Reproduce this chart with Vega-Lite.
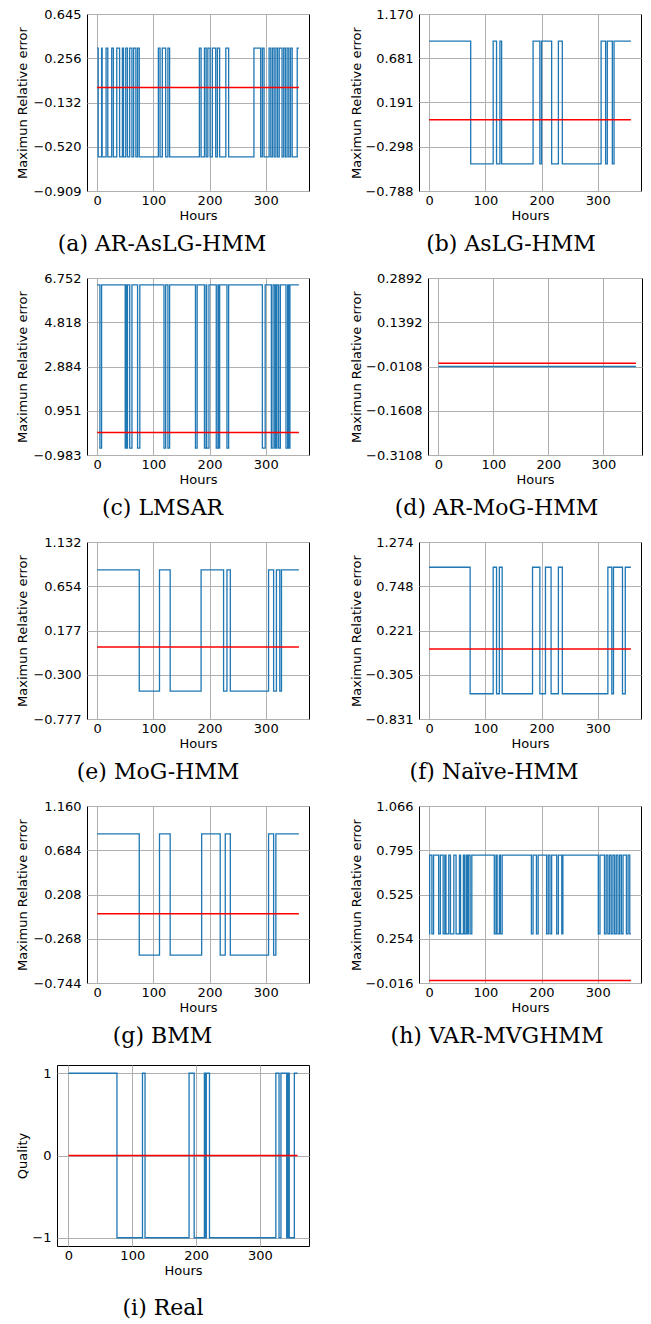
{
"$schema": "https://vega.github.io/schema/vega-lite/v6.json",
"padding": {"left": 16, "top": 7, "right": 0, "bottom": 0},
"config": {
 "view": {"stroke": "#000", "strokeWidth": 1},
 "axis": {"grid": true, "gridColor": "#b0b0b0", "gridWidth": 1, "ticks": false, "tickSize": 0, "domain": false, "labelFont": "DejaVu Sans", "labelFontSize": 13, "labelColor": "#000", "labelFlush": false, "titleFont": "DejaVu Sans", "titleFontSize": 13, "titleFontWeight": "normal", "titleColor": "#000"},
 "axisY": {"labelPadding": 6, "titleBaseline": "middle", "titleAlign": "center", "titleAngle": -90},
 "axisX": {"labelPadding": 3, "titlePadding": 2},
 "line": {"color": "#1f77b4", "strokeWidth": 1.3, "interpolate": "step-after"},
 "rule": {"color": "#ff0000", "strokeWidth": 1.5},
 "title": {"orient": "bottom", "anchor": "middle", "frame": "group", "font": "DejaVu Serif", "fontSize": 22, "fontWeight": "normal", "color": "#000", "baseline": "alphabetic"}
},
"datasets": {"s": [
{"p":"a","h":0,"v":0.345},{"p":"a","h":2,"v":-0.609},{"p":"a","h":8,"v":0.345},{"p":"a","h":9,"v":-0.609},{"p":"a","h":16,"v":0.345},{"p":"a","h":19,"v":-0.609},{"p":"a","h":26,"v":0.345},{"p":"a","h":29,"v":-0.609},{"p":"a","h":35,"v":0.345},{"p":"a","h":40,"v":-0.609},{"p":"a","h":45,"v":0.345},{"p":"a","h":47,"v":-0.609},{"p":"a","h":51,"v":0.345},{"p":"a","h":54,"v":-0.609},{"p":"a","h":58,"v":0.345},{"p":"a","h":62,"v":-0.609},{"p":"a","h":65,"v":0.345},{"p":"a","h":69,"v":-0.609},{"p":"a","h":72,"v":0.345},{"p":"a","h":75,"v":-0.609},{"p":"a","h":109,"v":0.345},{"p":"a","h":112,"v":-0.609},{"p":"a","h":116,"v":0.345},{"p":"a","h":122,"v":-0.609},{"p":"a","h":126,"v":0.345},{"p":"a","h":129,"v":-0.609},{"p":"a","h":182,"v":0.345},{"p":"a","h":185,"v":-0.609},{"p":"a","h":191,"v":0.345},{"p":"a","h":194,"v":-0.609},{"p":"a","h":197,"v":0.345},{"p":"a","h":201,"v":-0.609},{"p":"a","h":205,"v":0.345},{"p":"a","h":211,"v":-0.609},{"p":"a","h":214,"v":0.345},{"p":"a","h":218,"v":-0.609},{"p":"a","h":229,"v":0.345},{"p":"a","h":234,"v":-0.609},{"p":"a","h":279,"v":0.345},{"p":"a","h":291,"v":-0.609},{"p":"a","h":294,"v":0.345},{"p":"a","h":297,"v":-0.609},{"p":"a","h":306,"v":0.345},{"p":"a","h":309,"v":-0.609},{"p":"a","h":312,"v":0.345},{"p":"a","h":315,"v":-0.609},{"p":"a","h":318,"v":0.345},{"p":"a","h":321,"v":-0.609},{"p":"a","h":324,"v":0.345},{"p":"a","h":329,"v":-0.609},{"p":"a","h":332,"v":0.345},{"p":"a","h":335,"v":-0.609},{"p":"a","h":338,"v":0.345},{"p":"a","h":341,"v":-0.609},{"p":"a","h":344,"v":0.345},{"p":"a","h":347,"v":-0.609},{"p":"a","h":356,"v":0.345},{"p":"a","h":359,"v":0.345},
{"p":"b","h":0,"v":0.87},{"p":"b","h":74,"v":-0.488},{"p":"b","h":114,"v":0.87},{"p":"b","h":120,"v":-0.488},{"p":"b","h":126,"v":0.87},{"p":"b","h":129,"v":-0.488},{"p":"b","h":185,"v":0.87},{"p":"b","h":197,"v":-0.488},{"p":"b","h":200,"v":0.87},{"p":"b","h":218,"v":-0.488},{"p":"b","h":230,"v":0.87},{"p":"b","h":237,"v":-0.488},{"p":"b","h":306,"v":0.87},{"p":"b","h":314,"v":-0.488},{"p":"b","h":317,"v":0.87},{"p":"b","h":326,"v":-0.488},{"p":"b","h":329,"v":0.87},{"p":"b","h":359,"v":0.87},
{"p":"c","h":0,"v":6.452},{"p":"c","h":5,"v":-0.683},{"p":"c","h":8,"v":6.452},{"p":"c","h":50,"v":-0.683},{"p":"c","h":52,"v":6.452},{"p":"c","h":53,"v":-0.683},{"p":"c","h":54,"v":6.452},{"p":"c","h":58,"v":-0.683},{"p":"c","h":62,"v":6.452},{"p":"c","h":72,"v":-0.683},{"p":"c","h":76,"v":6.452},{"p":"c","h":119,"v":-0.683},{"p":"c","h":122,"v":6.452},{"p":"c","h":126,"v":-0.683},{"p":"c","h":129,"v":6.452},{"p":"c","h":175,"v":-0.683},{"p":"c","h":178,"v":6.452},{"p":"c","h":191,"v":-0.683},{"p":"c","h":194,"v":6.452},{"p":"c","h":195,"v":-0.683},{"p":"c","h":199,"v":6.452},{"p":"c","h":212,"v":-0.683},{"p":"c","h":215,"v":6.452},{"p":"c","h":216,"v":-0.683},{"p":"c","h":218,"v":6.452},{"p":"c","h":231,"v":-0.683},{"p":"c","h":234,"v":6.452},{"p":"c","h":294,"v":-0.683},{"p":"c","h":299,"v":6.452},{"p":"c","h":310,"v":-0.683},{"p":"c","h":313,"v":6.452},{"p":"c","h":316,"v":-0.683},{"p":"c","h":318,"v":6.452},{"p":"c","h":319,"v":-0.683},{"p":"c","h":320,"v":6.452},{"p":"c","h":323,"v":-0.683},{"p":"c","h":326,"v":6.452},{"p":"c","h":336,"v":-0.683},{"p":"c","h":339,"v":6.452},{"p":"c","h":341,"v":-0.683},{"p":"c","h":343,"v":6.452},{"p":"c","h":359,"v":6.452},
{"p":"d","h":0,"v":-0.0108},{"p":"d","h":359,"v":-0.0108},
{"p":"e","h":0,"v":0.832},{"p":"e","h":75,"v":-0.477},{"p":"e","h":111,"v":0.832},{"p":"e","h":130,"v":-0.477},{"p":"e","h":185,"v":0.832},{"p":"e","h":225,"v":-0.477},{"p":"e","h":231,"v":0.832},{"p":"e","h":237,"v":-0.477},{"p":"e","h":305,"v":0.832},{"p":"e","h":314,"v":-0.477},{"p":"e","h":319,"v":0.832},{"p":"e","h":325,"v":-0.477},{"p":"e","h":328,"v":0.832},{"p":"e","h":359,"v":0.832},
{"p":"f","h":0,"v":0.974},{"p":"f","h":73,"v":-0.531},{"p":"f","h":114,"v":0.974},{"p":"f","h":120,"v":-0.531},{"p":"f","h":125,"v":0.974},{"p":"f","h":130,"v":-0.531},{"p":"f","h":184,"v":0.974},{"p":"f","h":197,"v":-0.531},{"p":"f","h":207,"v":0.974},{"p":"f","h":217,"v":-0.531},{"p":"f","h":230,"v":0.974},{"p":"f","h":237,"v":-0.531},{"p":"f","h":318,"v":0.974},{"p":"f","h":325,"v":-0.531},{"p":"f","h":328,"v":0.974},{"p":"f","h":344,"v":-0.531},{"p":"f","h":349,"v":0.974},{"p":"f","h":359,"v":0.974},
{"p":"g","h":0,"v":0.86},{"p":"g","h":75,"v":-0.444},{"p":"g","h":111,"v":0.86},{"p":"g","h":130,"v":-0.444},{"p":"g","h":186,"v":0.86},{"p":"g","h":219,"v":-0.444},{"p":"g","h":228,"v":0.86},{"p":"g","h":237,"v":-0.444},{"p":"g","h":305,"v":0.86},{"p":"g","h":314,"v":-0.444},{"p":"g","h":318,"v":0.86},{"p":"g","h":359,"v":0.86},
{"p":"h","h":0,"v":0.284},{"p":"h","h":1,"v":0.766},{"p":"h","h":5,"v":0.284},{"p":"h","h":8,"v":0.766},{"p":"h","h":17,"v":0.284},{"p":"h","h":20,"v":0.766},{"p":"h","h":25,"v":0.284},{"p":"h","h":28,"v":0.766},{"p":"h","h":30,"v":0.284},{"p":"h","h":35,"v":0.766},{"p":"h","h":38,"v":0.284},{"p":"h","h":44,"v":0.766},{"p":"h","h":48,"v":0.284},{"p":"h","h":54,"v":0.766},{"p":"h","h":56,"v":0.284},{"p":"h","h":61,"v":0.766},{"p":"h","h":63,"v":0.284},{"p":"h","h":66,"v":0.766},{"p":"h","h":68,"v":0.284},{"p":"h","h":70,"v":0.766},{"p":"h","h":73,"v":0.284},{"p":"h","h":76,"v":0.766},{"p":"h","h":116,"v":0.284},{"p":"h","h":119,"v":0.766},{"p":"h","h":121,"v":0.284},{"p":"h","h":125,"v":0.766},{"p":"h","h":127,"v":0.284},{"p":"h","h":130,"v":0.766},{"p":"h","h":182,"v":0.284},{"p":"h","h":185,"v":0.766},{"p":"h","h":191,"v":0.284},{"p":"h","h":194,"v":0.766},{"p":"h","h":209,"v":0.284},{"p":"h","h":212,"v":0.766},{"p":"h","h":215,"v":0.284},{"p":"h","h":218,"v":0.766},{"p":"h","h":227,"v":0.284},{"p":"h","h":230,"v":0.766},{"p":"h","h":236,"v":0.284},{"p":"h","h":238,"v":0.766},{"p":"h","h":301,"v":0.284},{"p":"h","h":304,"v":0.766},{"p":"h","h":312,"v":0.284},{"p":"h","h":315,"v":0.766},{"p":"h","h":318,"v":0.284},{"p":"h","h":321,"v":0.766},{"p":"h","h":324,"v":0.284},{"p":"h","h":327,"v":0.766},{"p":"h","h":330,"v":0.284},{"p":"h","h":333,"v":0.766},{"p":"h","h":336,"v":0.284},{"p":"h","h":339,"v":0.766},{"p":"h","h":342,"v":0.284},{"p":"h","h":345,"v":0.766},{"p":"h","h":351,"v":0.284},{"p":"h","h":354,"v":0.766},{"p":"h","h":357,"v":0.284},{"p":"h","h":359,"v":0.284},
{"p":"i","h":0,"v":1},{"p":"i","h":76,"v":-1},{"p":"i","h":116,"v":1},{"p":"i","h":120,"v":-1},{"p":"i","h":189,"v":1},{"p":"i","h":197,"v":-1},{"p":"i","h":213,"v":1},{"p":"i","h":215,"v":-1},{"p":"i","h":216,"v":1},{"p":"i","h":221,"v":-1},{"p":"i","h":325,"v":1},{"p":"i","h":330,"v":-1},{"p":"i","h":333,"v":1},{"p":"i","h":342,"v":-1},{"p":"i","h":344,"v":1},{"p":"i","h":346,"v":-1},{"p":"i","h":354,"v":1},{"p":"i","h":359,"v":1}
]},
"spacing": 16,
"vconcat": [
 {"bounds": "flush", "spacing": 0, "hconcat": [
  {"width": 30, "height": 10, "data": {"values": []}, "mark": "point", "view": {"stroke": null}},
  {"spacing": 15, "vconcat": [
   {"bounds": "flush", "spacing": 110, "hconcat": [
    {"width": 222, "height": 177, "title": {"text": "(a) AR-AsLG-HMM", "dx": -36, "offset": 12},
     "layer": [
      {"data": {"name": "s"}, "transform": [{"filter": "datum.p === 'a'"}], "mark": "line",
       "encoding": {"x": {"field": "h", "type": "quantitative", "title": "Hours", "scale": {"domain": [-17.95, 376.95], "nice": false, "zero": false}, "axis": {"values": [0, 100, 200, 300]}},
                    "y": {"field": "v", "type": "quantitative", "title": "Maximun Relative error", "scale": {"domain": [-0.909, 0.645], "nice": false, "zero": false}, "axis": {"values": [-0.909, -0.52, -0.132, 0.256, 0.645], "format": ".3f", "titleX": -64.2, "titleY": 88.5}}}},
      {"data": {"values": [{}]}, "mark": "rule", "encoding": {"x": {"datum": 0}, "x2": {"datum": 359}, "y": {"datum": 0}}}
     ]},
    {"width": 222, "height": 177, "title": {"text": "(b) AsLG-HMM", "dx": -19, "offset": 12},
     "layer": [
      {"data": {"name": "s"}, "transform": [{"filter": "datum.p === 'b'"}], "mark": "line",
       "encoding": {"x": {"field": "h", "type": "quantitative", "title": "Hours", "scale": {"domain": [-17.95, 376.95], "nice": false, "zero": false}, "axis": {"values": [0, 100, 200, 300]}},
                    "y": {"field": "v", "type": "quantitative", "title": "Maximun Relative error", "scale": {"domain": [-0.788, 1.17], "nice": false, "zero": false}, "axis": {"values": [-0.788, -0.298, 0.191, 0.681, 1.17], "format": ".3f", "titleX": -62.3, "titleY": 88.5}}}},
      {"data": {"values": [{}]}, "mark": "rule", "encoding": {"x": {"datum": 0}, "x2": {"datum": 359}, "y": {"datum": 0}}}
     ]}
   ]},
   {"bounds": "flush", "spacing": 119, "hconcat": [
    {"width": 222, "height": 177, "title": {"text": "(c) LMSAR", "dx": -35.5, "offset": 12},
     "layer": [
      {"data": {"name": "s"}, "transform": [{"filter": "datum.p === 'c'"}], "mark": "line",
       "encoding": {"x": {"field": "h", "type": "quantitative", "title": "Hours", "scale": {"domain": [-17.95, 376.95], "nice": false, "zero": false}, "axis": {"values": [0, 100, 200, 300]}},
                    "y": {"field": "v", "type": "quantitative", "title": "Maximun Relative error", "scale": {"domain": [-0.983, 6.752], "nice": false, "zero": false}, "axis": {"values": [-0.983, 0.951, 2.884, 4.818, 6.752], "format": ".3f", "titleX": -64.2, "titleY": 88.5}}}},
      {"data": {"values": [{}]}, "mark": "rule", "encoding": {"x": {"datum": 0}, "x2": {"datum": 359}, "y": {"datum": 0}}}
     ]},
    {"width": 214, "height": 177, "title": {"text": "(d) AR-MoG-HMM", "dx": -38.5, "offset": 12},
     "layer": [
      {"data": {"name": "s"}, "transform": [{"filter": "datum.p === 'd'"}], "mark": "line",
       "encoding": {"x": {"field": "h", "type": "quantitative", "title": "Hours", "scale": {"domain": [-18.7, 370.0], "nice": false, "zero": false}, "axis": {"values": [0, 100, 200, 300]}},
                    "y": {"field": "v", "type": "quantitative", "title": "Maximun Relative error", "scale": {"domain": [-0.3108, 0.2892], "nice": false, "zero": false}, "axis": {"values": [-0.3108, -0.1608, -0.0108, 0.1392, 0.2892], "format": ".4f", "titleX": -71.3, "titleY": 88.5}}}},
      {"data": {"values": [{}]}, "mark": "rule", "encoding": {"x": {"datum": 0}, "x2": {"datum": 359}, "y": {"datum": 0}}}
     ]}
   ]},
   {"bounds": "flush", "spacing": 110, "hconcat": [
    {"width": 222, "height": 177, "title": {"text": "(e) MoG-HMM", "dx": -40, "offset": 12},
     "layer": [
      {"data": {"name": "s"}, "transform": [{"filter": "datum.p === 'e'"}], "mark": "line",
       "encoding": {"x": {"field": "h", "type": "quantitative", "title": "Hours", "scale": {"domain": [-17.95, 376.95], "nice": false, "zero": false}, "axis": {"values": [0, 100, 200, 300]}},
                    "y": {"field": "v", "type": "quantitative", "title": "Maximun Relative error", "scale": {"domain": [-0.777, 1.132], "nice": false, "zero": false}, "axis": {"values": [-0.777, -0.3, 0.177, 0.654, 1.132], "format": ".3f", "titleX": -64.2, "titleY": 88.5}}}},
      {"data": {"values": [{}]}, "mark": "rule", "encoding": {"x": {"datum": 0}, "x2": {"datum": 359}, "y": {"datum": 0}}}
     ]},
    {"width": 222, "height": 177, "title": {"text": "(f) Naïve-HMM", "dx": -36, "offset": 12},
     "layer": [
      {"data": {"name": "s"}, "transform": [{"filter": "datum.p === 'f'"}], "mark": "line",
       "encoding": {"x": {"field": "h", "type": "quantitative", "title": "Hours", "scale": {"domain": [-17.95, 376.95], "nice": false, "zero": false}, "axis": {"values": [0, 100, 200, 300]}},
                    "y": {"field": "v", "type": "quantitative", "title": "Maximun Relative error", "scale": {"domain": [-0.831, 1.274], "nice": false, "zero": false}, "axis": {"values": [-0.831, -0.305, 0.221, 0.748, 1.274], "format": ".3f", "titleX": -62.3, "titleY": 88.5}}}},
      {"data": {"values": [{}]}, "mark": "rule", "encoding": {"x": {"datum": 0}, "x2": {"datum": 359}, "y": {"datum": 0}}}
     ]}
   ]},
   {"bounds": "flush", "spacing": 110, "hconcat": [
    {"width": 222, "height": 177, "title": {"text": "(g) BMM", "dx": -35.5, "offset": 12},
     "layer": [
      {"data": {"name": "s"}, "transform": [{"filter": "datum.p === 'g'"}], "mark": "line",
       "encoding": {"x": {"field": "h", "type": "quantitative", "title": "Hours", "scale": {"domain": [-17.95, 376.95], "nice": false, "zero": false}, "axis": {"values": [0, 100, 200, 300]}},
                    "y": {"field": "v", "type": "quantitative", "title": "Maximun Relative error", "scale": {"domain": [-0.744, 1.16], "nice": false, "zero": false}, "axis": {"values": [-0.744, -0.268, 0.208, 0.684, 1.16], "format": ".3f", "titleX": -64.2, "titleY": 88.5}}}},
      {"data": {"values": [{}]}, "mark": "rule", "encoding": {"x": {"datum": 0}, "x2": {"datum": 359}, "y": {"datum": 0}}}
     ]},
    {"width": 222, "height": 177, "title": {"text": "(h) VAR-MVGHMM", "dx": -33, "offset": 12},
     "layer": [
      {"data": {"name": "s"}, "transform": [{"filter": "datum.p === 'h'"}], "mark": "line",
       "encoding": {"x": {"field": "h", "type": "quantitative", "title": "Hours", "scale": {"domain": [-17.95, 376.95], "nice": false, "zero": false}, "axis": {"values": [0, 100, 200, 300]}},
                    "y": {"field": "v", "type": "quantitative", "title": "Maximun Relative error", "scale": {"domain": [-0.016, 1.066], "nice": false, "zero": false}, "axis": {"values": [-0.016, 0.254, 0.525, 0.795, 1.066], "format": ".3f", "titleX": -63, "titleY": 88.5}}}},
      {"data": {"values": [{}]}, "mark": "rule", "encoding": {"x": {"datum": 0}, "x2": {"datum": 359}, "y": {"datum": 0}}}
     ]}
   ]}
  ]}
 ]},
 {"width": 252, "height": 181, "title": {"text": "(i) Real", "dx": -20, "offset": 21},
  "layer": [
   {"data": {"name": "s"}, "transform": [{"filter": "datum.p === 'i'"}], "mark": "line",
    "encoding": {"x": {"field": "h", "type": "quantitative", "title": "Hours", "scale": {"domain": [-17.95, 376.95], "nice": false, "zero": false}, "axis": {"values": [0, 100, 200, 300]}},
                 "y": {"field": "v", "type": "quantitative", "title": "Quality", "scale": {"domain": [-1.1, 1.1], "nice": false, "zero": false}, "axis": {"values": [-1, 0, 1], "format": "d", "titleX": -34.2, "titleY": 90.5}}}},
   {"data": {"values": [{}]}, "mark": "rule", "encoding": {"x": {"datum": 0}, "x2": {"datum": 359}, "y": {"datum": 0}}}
  ]}
]
}
